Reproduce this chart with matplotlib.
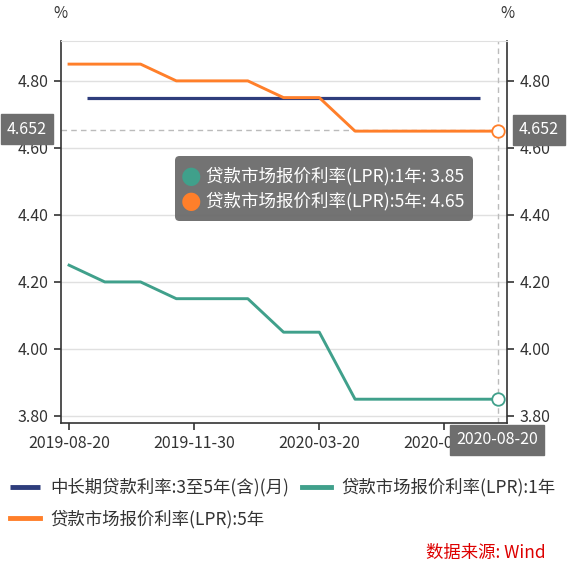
import matplotlib
matplotlib.use('Agg')
import matplotlib.pyplot as plt
from matplotlib.patches import FancyBboxPatch

plt.rcParams['font.family'] = ['Noto Sans CJK SC', 'DejaVu Sans']

# LPR is published on the 20th, the loan rate is a month-end series
lpr_dates = ['2019-08-20', '2019-09-20', '2019-10-21', '2019-11-20', '2019-12-20',
             '2020-01-20', '2020-02-20', '2020-03-20', '2020-04-20', '2020-05-20',
             '2020-06-22', '2020-07-20', '2020-08-20']
lpr_1y = [4.25, 4.20, 4.20, 4.15, 4.15, 4.15, 4.05, 4.05, 3.85, 3.85, 3.85, 3.85, 3.85]
lpr_5y = [4.85, 4.85, 4.85, 4.80, 4.80, 4.80, 4.75, 4.75, 4.65, 4.65, 4.65, 4.65, 4.65]

loan_dates = ['2019-08-31', '2019-09-30', '2019-10-31', '2019-11-30', '2019-12-31',
              '2020-01-31', '2020-02-29', '2020-03-31', '2020-04-30', '2020-05-31',
              '2020-06-30', '2020-07-31']
loan_3to5 = [4.75, 4.75, 4.75, 4.75, 4.75, 4.75, 4.75, 4.75, 4.75, 4.75, 4.75, 4.75]

name_loan = '中长期贷款利率:3至5年(含)(月)'
name_1y = '贷款市场报价利率(LPR):1年'
name_5y = '贷款市场报价利率(LPR):5年'

yticks = [3.80, 4.00, 4.20, 4.40, 4.60, 4.80]
cursor_y = 4.652  # crosshair value shown on the axes

c_loan = '#2E3D7C'
c_1y = '#40A08B'
c_5y = '#FF7F2A'

# category axis = union of all dates
cats = sorted(set(lpr_dates + loan_dates))
idx = {d: i for i, d in enumerate(cats)}
x_lpr = [idx[d] for d in lpr_dates]
x_loan = [idx[d] for d in loan_dates]

W = H = 570
fig = plt.figure(figsize=(5.7, 5.7), dpi=100)


def fx(px):
    return px / W


def fy(py):
    return 1 - py / H


ax = fig.add_axes([fx(61), fy(423), fx(507) - fx(61), fy(41) - fy(423)])

l_loan, = ax.plot(x_loan, loan_3to5, color=c_loan, lw=2.3, label=name_loan, solid_capstyle='butt')
l_1y, = ax.plot(x_lpr, lpr_1y, color=c_1y, lw=2.1, label=name_1y)
l_5y, = ax.plot(x_lpr, lpr_5y, color=c_5y, lw=2.1, label=name_5y)

# hovered point
ax.plot(x_lpr[-1], lpr_1y[-1], 'o', ms=9, mfc='white', mec=c_1y, mew=1.3, zorder=5, clip_on=False)
ax.plot(x_lpr[-1], lpr_5y[-1], 'o', ms=9, mfc='white', mec=c_5y, mew=1.3, zorder=5, clip_on=False)

# crosshair
ax.axvline(x_lpr[-1], color='#bbbbbb', lw=1, ls=(0, (4, 3)), zorder=1)
ax.axhline(cursor_y, color='#bbbbbb', lw=1, ls=(0, (4, 3)), zorder=1)

ax.set_xlim(-0.45, len(cats) - 0.5)
ax.set_ylim(3.779, 4.919)
ax.set_yticks(yticks)
ax.set_yticklabels(['%.2f' % v for v in yticks])
xt = [0, 7, 14, 21]
ax.set_xticks(xt)
ax.set_xticklabels([cats[i] for i in xt])
ax.grid(axis='y', color='#e0e0e0', lw=1)
ax.set_axisbelow(True)

for s in ['left', 'right', 'bottom']:
    ax.spines[s].set_color('#333333')
    ax.spines[s].set_linewidth(1.2)
ax.spines['top'].set_color('#e0e0e0')
ax.tick_params(axis='y', left=True, right=True, labelleft=True, labelright=True,
               length=5, width=1.2, color='#333333', labelcolor='#333333', labelsize=11.5, pad=4)
ax.tick_params(axis='x', length=5, width=1.2, color='#333333', labelcolor='#333333', labelsize=11.5, pad=4)

fig.text(fx(60), fy(14), '%', ha='center', va='center', fontsize=11, color='#333333')
fig.text(fx(507), fy(14), '%', ha='center', va='center', fontsize=11, color='#333333')

# axis pointer labels
box = dict(boxstyle='square,pad=0.38', fc='#6e6e6e', ec='#6e6e6e')
fig.text(fx(27), fy(129), '%.3f' % cursor_y, ha='center', va='center', fontsize=11.5, color='white', bbox=box)
fig.text(fx(539), fy(130), '%.3f' % cursor_y, ha='center', va='center', fontsize=11.5, color='white', bbox=box)
fig.text(fx(497), fy(440), lpr_dates[-1], ha='center', va='center', fontsize=11.5, color='white', bbox=box)

# tooltip
tip = FancyBboxPatch((fx(175), fy(221)), fx(473) - fx(175), fy(156) - fy(221),
                     boxstyle='round,pad=0,rounding_size=0.008', transform=fig.transFigure,
                     fc='#6e6e6e', ec='none', alpha=0.97, zorder=10)
fig.patches.append(tip)
for row, (name, vals, col) in enumerate([(name_1y, lpr_1y, c_1y), (name_5y, lpr_5y, c_5y)]):
    yy = 176 + row * 25
    fig.text(fx(191), fy(yy), '\u25cf', ha='center', va='center', fontsize=17, color=col, zorder=11,
             family=['DejaVu Sans'])
    fig.text(fx(206), fy(yy), '%s: %.2f' % (name, vals[-1]), ha='left', va='center',
             fontsize=12.6, color='white', zorder=11)

leg = fig.legend([l_loan, l_5y, l_1y], [name_loan, name_5y, name_1y], ncol=2,
                 loc='upper left', bbox_to_anchor=(fx(10), fy(478)), frameon=False,
                 fontsize=12.5, handlelength=1.7, handletextpad=0.6, columnspacing=0.75,
                 labelspacing=0.75, borderpad=0, borderaxespad=0)
for t in leg.get_texts():
    t.set_color('#333333')
for ln in leg.get_lines():
    ln.set_linewidth(3.5)

fig.text(fx(546), fy(553), '数据来源: Wind', ha='right', va='center', fontsize=12.5,
         color='#dd0000', style='italic')

fig.savefig('out.png', dpi=100)
